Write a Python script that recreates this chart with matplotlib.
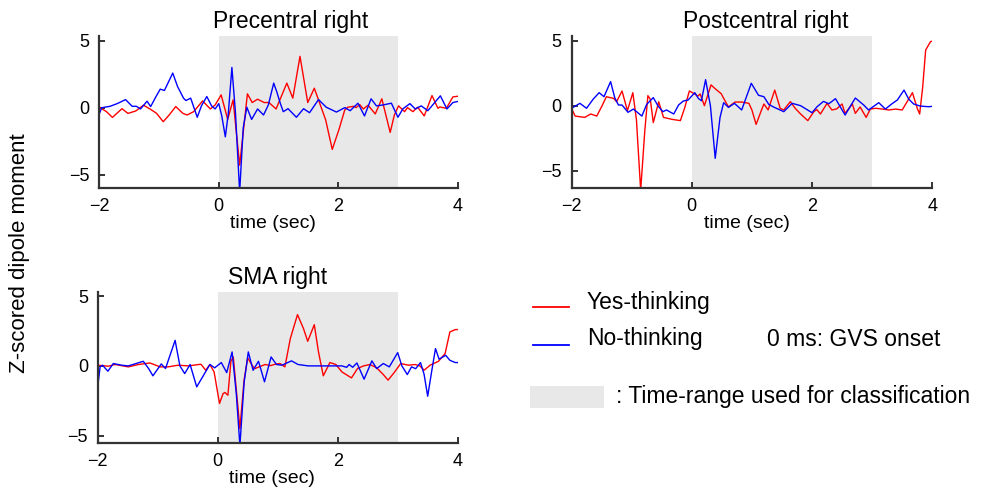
import numpy as np
import matplotlib
matplotlib.use("Agg")
import matplotlib.pyplot as plt
from matplotlib.lines import Line2D
from matplotlib.patches import Rectangle

plt.rcParams['font.family'] = ['Liberation Sans', 'DejaVu Sans']

# ---- Precentral right ----
pre_yes_t = [-2.0, -1.88, -1.78, -1.62, -1.52, -1.39, -1.26, -1.14, -1.04, -0.93, -0.83, -0.72, -0.60, -0.53,
             -0.42, -0.27, -0.14, -0.06, 0.04, 0.15, 0.24, 0.35, 0.48, 0.56, 0.65, 0.76, 0.84, 0.96, 1.14,
             1.24, 1.36, 1.49, 1.60, 1.69, 1.79, 1.90, 2.01, 2.11, 2.16, 2.26, 2.30, 2.36, 2.42, 2.50, 2.62,
             2.73, 2.87, 2.94, 3.01, 3.11, 3.16, 3.25, 3.33, 3.44, 3.57, 3.67, 3.70, 3.81, 3.92, 4.0]
pre_yes = [0.03, -0.3, -0.73, -0.08, -0.43, -0.25, 0.18, -0.13, -0.43, -1.05, -0.55, 0.08, -0.43, -0.55,
           -0.3, 0.5, -0.1, 0.2, 0.95, -0.88, 0.58, -4.3, 1.03, 0.38, 0.63, 0.38, 0.38, -0.1, 1.83,
           0.71, 3.83, 0.38, 1.45, 0.33, -0.92, -3.12, -1.67, -0.17, 0.03, 0.1, 0.0, 0.23, -0.1, 0.18, -0.47,
           0.66, -1.85, -0.55, 0.13, -0.3, 0.0, -0.3, 0.03, -0.62, 0.9, -0.05, 0.05, -0.05, 0.8, 0.85]
pre_no_t = [-2.0, -1.96, -1.82, -1.70, -1.56, -1.45, -1.38, -1.31, -1.20, -1.14, -1.05, -0.98, -0.91, -0.77,
            -0.69, -0.59, -0.55, -0.47, -0.36, -0.29, -0.20, -0.12, -0.06, 0.0, 0.05, 0.11, 0.16, 0.22,
            0.28, 0.35, 0.41, 0.47, 0.55, 0.65, 0.75, 0.83, 0.92, 0.97, 1.03, 1.08, 1.16, 1.30, 1.42,
            1.52, 1.67, 1.80, 1.97, 2.11, 2.20, 2.33, 2.44, 2.55, 2.64, 2.75, 2.89, 3.0, 3.08, 3.20, 3.29,
            3.39, 3.50, 3.71, 3.82, 3.92, 4.0]
pre_no = [-0.47, -0.01, 0.1, 0.3, 0.6, 0.1, 0.1, -0.1, 0.48, 0.08, 0.83, 1.38, 1.28, 2.58,
          1.58, 0.71, 0.53, 0.71, -0.72, 0.13, 0.83, 0.13, -0.1, 0.3, -0.6, -2.18, -0.43, 3.0,
          -0.4, -6.3, -1.5, 0.03, -0.88, -0.1, -0.55, 0.2, 1.83, 1.2, 0.33, -0.3, -0.08, -0.72, -0.08,
          -0.38, 0.6, 0.03, -0.33, 0.0, -0.23, 0.33, -0.62, 0.66, 0.13, 0.2, 0.33, -0.72, -0.1, 0.3, -0.1,
          0.13, -0.23, 0.88, -0.1, 0.38, 0.46]

# ---- Postcentral right ----
post_yes_t = [-2.0, -1.94, -1.78, -1.68, -1.58, -1.50, -1.42, -1.30, -1.25, -1.16, -1.07, -0.98, -0.92,
              -0.85, -0.78, -0.73, -0.69, -0.64, -0.55, -0.47, -0.33, -0.19, -0.12, -0.04, 0.06, 0.10,
              0.14, 0.21, 0.32, 0.39, 0.49, 0.55, 0.61, 0.72, 0.83, 0.95, 1.0, 1.07, 1.16, 1.20, 1.27,
              1.38, 1.47, 1.53, 1.64, 1.72, 1.81, 1.93, 2.03, 2.08, 2.14, 2.25, 2.33, 2.41, 2.50, 2.55,
              2.67, 2.72, 2.80, 2.90, 2.97, 3.06, 3.17, 3.28, 3.39, 3.50, 3.67, 3.75, 3.79, 3.84, 3.89,
              3.97, 4.0]
post_yes = [-0.2, -0.8, -0.9, -0.64, -0.8, -0.08, 0.69, 0.56, 0.31, 1.13, -0.38, 1.0, -1.1,
            -6.5, -1.87, 0.77, 0.5, -1.3, 0.3, -0.9, -1.05, -1.15, -0.2, 1.13, 0.87, 0.74,
            0.9, 0.0, 1.6, 1.3, 0.92, 0.4, -0.1, 0.28, 0.28, 0.18, -0.33, -1.44, -0.33, 0.13, -0.33,
            1.2, -0.2, -0.33, 0.31, -0.2, -0.64, -1.15, -0.46, -0.3, -0.64, 0.18, -0.33, -0.25, 0.13, -0.59,
            0.13, -0.59, -0.1, -0.9, -0.26, -0.2, -0.26, -0.33, -0.26, -0.33, 1.0, -0.2, -0.64, 1.4, 4.28,
            4.92, 4.97]
post_no_t = [-2.0, -1.86, -1.75, -1.64, -1.54, -1.46, -1.35, -1.28, -1.22, -1.16, -1.06, -0.97, -0.83,
             -0.75, -0.64, -0.56, -0.48, -0.42, -0.30, -0.22, -0.14, -0.06, 0.05, 0.11, 0.16, 0.23, 0.31,
             0.39, 0.47, 0.53, 0.61, 0.71, 0.83, 0.99, 1.11, 1.20, 1.28, 1.36, 1.53, 1.67, 1.81, 2.0,
             2.08, 2.19, 2.28, 2.39, 2.55, 2.72, 2.86, 2.94, 3.11, 3.22, 3.33, 3.42, 3.53, 3.61, 3.69,
             3.80, 3.94, 4.0]
post_no = [-0.2, 0.18, -0.2, 0.5, 1.0, 0.69, 1.85, 0.6, 0.05, 0.05, -0.51, -0.26, -0.8,
           0.1, 0.62, -0.03, -0.46, -0.33, -0.64, 0.05, 0.36, 0.44, 1.0, 0.56, 0.38, 2.0, 0.0,
           -4.05, -0.9, 0.23, -0.13, 0.18, -0.33, 1.72, 0.8, 0.69, 0.1, -0.1, -0.46, 0.18, 0.0, -0.54,
           -0.1, 0.33, 0.15, 0.54, -0.72, 0.59, 0.05, -0.33, 0.23, -0.26, 0.15, 0.44, 1.2, 0.49, 0.13,
           -0.03, -0.08, -0.05]

# ---- SMA right ----
sma_yes_t = [-2.0, -1.82, -1.71, -1.49, -1.32, -1.13, -0.96, -0.83, -0.66, -0.49, -0.28, -0.20, -0.13,
             -0.06, 0.03, 0.09, 0.12, 0.17, 0.22, 0.26, 0.37, 0.44, 0.50, 0.58, 0.62, 0.79, 0.88, 0.96,
             1.04, 1.12, 1.21, 1.33, 1.43, 1.50, 1.61, 1.68, 1.76, 1.87, 1.97, 2.07, 2.23, 2.33, 2.43,
             2.54, 2.65, 2.76, 2.84, 2.95, 3.05, 3.18, 3.29, 3.37, 3.44, 3.54, 3.68, 3.79, 3.87, 3.96, 4.0]
sma_yes = [0.05, -0.02, 0.1, -0.07, 0.1, 0.21, -0.07, -0.07, 0.05, 0.0, 0.12, -0.31, 0.1,
           -0.43, -2.69, -1.98, -1.9, -2.1, 0.33, 0.64, -4.5, -1.0, 0.57, 0.0, -0.19, 0.1, 0.02, 0.12,
           0.17, -0.07, 1.95, 3.67, 2.67, 1.76, 2.95, 1.0, -0.71, 0.24, 0.1, -0.43, -0.86, -0.19, 0.0,
           0.1, -0.14, -0.62, -1.02, -0.43, 0.17, 0.05, 0.1, 0.0, -0.31, 0.05, 0.33, 0.88, 2.43, 2.6, 2.6]
sma_no_t = [-2.0, -1.96, -1.92, -1.83, -1.74, -1.60, -1.49, -1.24, -1.15, -1.08, -0.94, -0.87, -0.71,
            -0.63, -0.55, -0.46, -0.35, -0.13, -0.05, 0.06, 0.15, 0.24, 0.31, 0.37, 0.44, 0.51, 0.59,
            0.68, 0.78, 0.89, 0.98, 1.07, 1.23, 1.34, 1.51, 1.79, 2.07, 2.15, 2.19, 2.25, 2.32, 2.44,
            2.57, 2.65, 2.76, 2.86, 3.0, 3.07, 3.16, 3.23, 3.30, 3.38, 3.44, 3.50, 3.57, 3.63, 3.69,
            3.80, 3.87, 3.96, 4.0]
sma_no = [-1.5, -0.07, 0.05, -0.38, 0.17, 0.05, 0.0, 0.33, -0.2, -0.71, 0.14, -0.19, 1.83,
          0.0, -0.55, 0.1, -1.5, 0.1, -0.14, 0.24, -0.48, 1.0, -2.0, -5.7, -1.2, 1.0, -0.31,
          0.33, -1.14, 0.64, 0.1, 0.05, 0.36, 0.1, 0.0, 0.0, 0.0, -0.1, 0.1, -0.1, 0.21, -0.95,
          0.36, -0.19, 0.17, -0.07, 0.95, 0.0, -0.62, -0.07, -0.2, 0.24, -0.6, -2.17, -0.3, 1.24, 0.48,
          0.76, 0.4, 0.24, 0.24]

shade_range = (0, 3)
xticks = [-2, 0, 2, 4]
yticks = [-5, 0, 5]


def style_axis(ax, title, ylim, title_x):
    ax.axvspan(shade_range[0], shade_range[1], color="#e8e8e8", lw=0, zorder=0)
    ax.set_xlim(-2, 4)
    ax.set_ylim(ylim)
    ax.set_xticks(xticks)
    ax.set_yticks(yticks)
    ax.set_xticklabels(["\u22122", "0", "2", "4"])
    ax.set_yticklabels(["\u22125", "0", "5"])
    for s in ["top", "right"]:
        ax.spines[s].set_visible(False)
    for s in ["left", "bottom"]:
        ax.spines[s].set_color("#333333")
        ax.spines[s].set_linewidth(1.6)
    ax.tick_params(direction="in", length=4, width=1.4, color="#333333", labelsize=13, pad=7)
    ax.set_xlabel("time (sec)", fontsize=14, labelpad=0, x=0.485)
    ax.set_title(title, fontsize=16.5, pad=6, x=title_x)


fig = plt.figure(figsize=(9.83, 4.93), dpi=100)

ax1 = fig.add_axes([0.101, 0.6187, 0.3646, 0.3083])
ax2 = fig.add_axes([0.5814, 0.6187, 0.367, 0.3083])
ax3 = fig.add_axes([0.0994, 0.1014, 0.3662, 0.3063])

panels = [
    (ax1, "Precentral right", (-6.0, 5.35), 0.533, pre_yes_t, pre_yes, pre_no_t, pre_no),
    (ax2, "Postcentral right", (-6.33, 5.36), 0.539, post_yes_t, post_yes, post_no_t, post_no),
    (ax3, "SMA right", (-5.52, 5.29), 0.5, sma_yes_t, sma_yes, sma_no_t, sma_no),
]
for ax, title, ylim, tx, yt, yv, nt, nv in panels:
    ax.plot(yt, yv, color="red", lw=1.0, solid_joinstyle="round")
    ax.plot(nt, nv, color="blue", lw=1.0, solid_joinstyle="round")
    style_axis(ax, title, ylim, tx)

fig.text(0.02, 0.487, "Z-scored dipole moment", rotation=90, fontsize=16, ha="center", va="center")

# legend drawn by hand
fig.add_artist(Line2D([533 / 983, 569 / 983], [1 - 307 / 493, 1 - 307 / 493], color="red", lw=1.3))
fig.add_artist(Line2D([533 / 983, 569 / 983], [1 - 345 / 493, 1 - 345 / 493], color="blue", lw=1.3))
fig.text(587 / 983, 1 - 303 / 493, "Yes-thinking", fontsize=16.5, va="center")
fig.text(587 / 983, 1 - 339 / 493, "No-thinking", fontsize=16.5, va="center")
fig.text(767 / 983, 1 - 339 / 493, "0 ms: GVS onset", fontsize=16.5, va="center")
fig.add_artist(Rectangle((530 / 983, 1 - 408 / 493), 74 / 983, 22 / 493, color="#e8e8e8", lw=0,
                         transform=fig.transFigure))
fig.text(616 / 983, 1 - 397 / 493, ": Time-range used for classification", fontsize=16.5, va="center")

fig.savefig("out.png", dpi=100)
